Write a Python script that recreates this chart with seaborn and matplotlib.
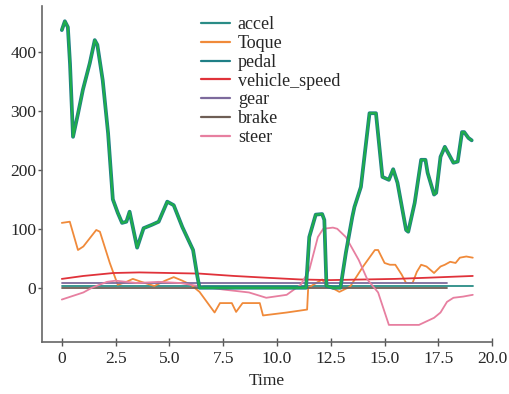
import matplotlib
matplotlib.use("Agg")
import matplotlib.pyplot as plt
import matplotlib.patheffects as pe
import seaborn as sns
import pandas as pd

# data
pedal_t = [0, 0.14, 0.28, 0.38, 0.52, 0.75, 0.98, 1.3, 1.53, 1.65,
           1.9, 2.15, 2.37, 2.6, 2.8, 3.0, 3.15, 3.5, 3.8, 4.2,
           4.5, 4.9, 5.2, 5.6, 6.1, 6.3, 6.4, 7.5, 9.0, 10.5,
           11.35, 11.5, 11.8, 12.1, 12.2, 12.3, 12.6, 12.95, 13.2, 13.5,
           13.6, 13.9, 14.3, 14.6, 14.9, 15.2, 15.4, 15.6, 16.0, 16.1,
           16.4, 16.7, 16.9, 17.0, 17.3, 17.4, 17.6, 17.8, 18.2, 18.4,
           18.6, 18.7, 18.9, 19.05]
pedal = [437, 452, 442, 380, 256, 295, 336, 381, 420, 412,
         352, 262, 150, 127, 110, 112, 129, 68, 101, 107,
         112, 146, 140, 103, 64, 19, 0, 0, 0, 0,
         0, 86, 124, 125, 115, 3, 0, 0, 59, 120,
         137, 171, 296, 296, 188, 183, 201, 178, 98, 95,
         144, 217, 217, 195, 158, 161, 222, 239, 212, 214,
         264, 264, 254, 250]

toque_t = [0, 0.37, 0.75, 1.0, 1.6, 1.77, 2.23, 2.6, 3.0, 3.3,
           3.7, 4.3, 4.8, 5.2, 5.6, 6.0, 6.4, 6.9, 7.1, 7.35,
           7.9, 8.1, 8.4, 9.2, 9.35, 10.45, 11.4, 11.45, 12.1, 12.3,
           12.7, 12.9, 13.4, 14.0, 14.55, 14.7, 15.0, 15.25, 15.5, 15.8,
           16.0, 16.3, 16.5, 16.7, 16.95, 17.3, 17.6, 17.8, 18.05, 18.3,
           18.5, 18.8, 19.1]
toque = [110, 112, 64, 70, 98, 95, 42, 5, 10, 15,
         10, 3, 12, 18, 12, 5, -7, -32, -42, -26,
         -26, -41, -26, -26, -47, -42, -37, 0, 14, 3,
         -3, -7, 2, 36, 64, 64, 42, 39, 39, 22,
         8, 8, 27, 39, 36, 25, 36, 39, 44, 42,
         51, 53, 51]

steer_t = [0, 1.0, 1.4, 2.1, 2.5, 3.5, 4.5, 5.5, 6.5, 7.5,
           8.7, 9.5, 10.45, 11.1, 11.5, 11.9, 12.15, 12.6, 12.8, 13.2,
           13.8, 14.2, 14.7, 15.2, 15.4, 16.6, 17.3, 17.6, 17.9, 18.2,
           18.65, 19.1]
steer = [-20, -8, 0, 10, 12, 8, 10, 8, 2, -3,
         -8, -17, -12, 5, 30, 86, 100, 102, 100, 86,
         47, 14, -8, -63, -63, -63, -51, -42, -24, -17,
         -15, -12]

speed_t = [0, 1.0, 2.4, 3.6, 5.0, 6.4, 8.0, 9.5, 11.1, 12.5, 14.0, 15.5, 17.0, 19.1]
vehicle_speed = [15, 20, 25, 26, 25, 24, 20, 17, 14, 13, 14, 15, 17, 20]

accel_t = [0, 19.1]
accel = [3, 3]
gear_t = [0, 17.9]
gear = [8, 8]
brake_t = [0, 17.9]
brake = [0, 0]

names = ["accel", "Toque", "pedal", "vehicle_speed", "gear", "brake", "steer"]
colors = ["#2a8c86", "#f08a3a", "#1fae4a", "#e0323a", "#7d6a9c", "#6e5e55", "#e77fa0"]

series = {
    "accel": (accel_t, accel),
    "Toque": (toque_t, toque),
    "pedal": (pedal_t, pedal),
    "vehicle_speed": (speed_t, vehicle_speed),
    "gear": (gear_t, gear),
    "brake": (brake_t, brake),
    "steer": (steer_t, steer),
}
df = pd.concat([pd.DataFrame({"Time": t, "value": v, "signal": k})
                for k, (t, v) in series.items()], ignore_index=True)

sns.set_style("white")
plt.rcParams["font.family"] = ["Liberation Serif", "DejaVu Serif"]

fig = plt.figure(figsize=(5.1, 3.94), dpi=100)
ax = fig.add_axes([0.082, 0.132, 0.883, 0.853])
sns.lineplot(data=df, x="Time", y="value", hue="signal", hue_order=names,
             palette=dict(zip(names, colors)), estimator=None, linewidth=1.3, ax=ax)

# pedal line has a teal outline in the reference
teal_edge = [pe.Stroke(linewidth=2.7, foreground="#1f7f86"), pe.Normal()]
pedal_line = ax.lines[names.index("pedal")]
pedal_line.set_path_effects(teal_edge)
pedal_line.set_linewidth(1.5)
pedal_line.set_zorder(5)

ax.set_xlim(-0.93, 20.0)
ax.set_ylim(-92, 478)
ax.set_xticks([0, 2.5, 5.0, 7.5, 10.0, 12.5, 15.0, 17.5, 20.0])
ax.set_xticklabels(["0", "2.5", "5.0", "7.5", "10.0", "12.5", "15.0", "17.5", "20.0"])
ax.set_yticks([0, 100, 200, 300, 400])
ax.set_xlabel("Time", fontsize=12.5, labelpad=4)
ax.set_ylabel("")
ax.tick_params(axis="x", labelsize=12.5, direction="inout", length=6, width=1,
               color="#555555", bottom=True)
ax.tick_params(axis="y", labelsize=12.5, direction="out", length=3, width=1,
               color="#555555", left=True, pad=1)
sns.despine(ax=ax)
for s in ["left", "bottom"]:
    ax.spines[s].set_color("#666666")
    ax.spines[s].set_linewidth(1.2)

leg = ax.legend(loc="upper left", bbox_to_anchor=(0.345, 0.98), frameon=False,
                fontsize=13, handlelength=1.6, labelspacing=0.1, handletextpad=0.45,
                borderaxespad=0, borderpad=0.2)
for h in leg.get_lines():
    h.set_linewidth(1.6)
leg.get_lines()[names.index("pedal")].set_path_effects([])
leg.get_lines()[names.index("pedal")].set_color("#1f7f86")

fig.savefig("out.png", dpi=100)
